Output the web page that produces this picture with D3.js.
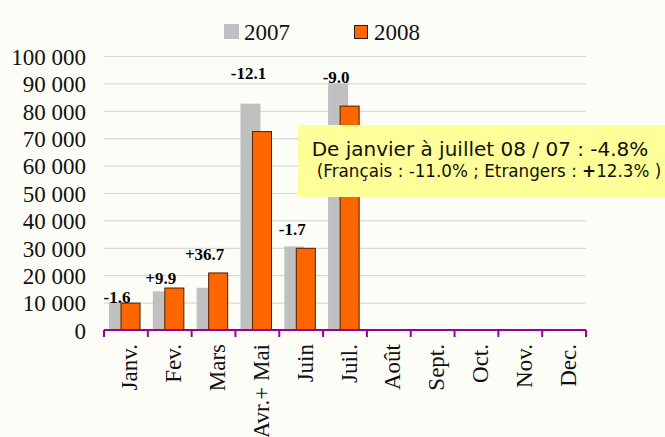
<!DOCTYPE html>
<html><head><meta charset="utf-8">
<script src="https://cdn.jsdelivr.net/npm/d3@7"></script>
<style>html,body{margin:0;padding:0;background:#fdfdf8;}svg{display:block;}</style>
</head><body>
<svg id="c" width="665" height="437"></svg>
<script>
const categories = ["Janv.","Fev.","Mars","Avr.+ Mai","Juin","Juil.","Août","Sept.","Oct.","Nov.","Dec."];
const values2007 = [10150, 14100, 15400, 82600, 30500, 90000, null, null, null, null, null];
const values2008 = [10000, 15500, 21000, 72600, 30000, 81900, null, null, null, null, null];
const changeLabels = ["-1.6","+9.9","+36.7","-12.1","-1.7","-9.0"];
const changeLabelLevel = [9900, 16800, 25700, 91500, 34500, 90000];
const yTicks = [0,10000,20000,30000,40000,50000,60000,70000,80000,90000,100000];
const seriesNames = ["2007","2008"];
const noteLine1 = "De janvier à juillet 08 / 07 : -4.8%";
const noteLine2a = "(Français : -11.0% ; Etrangers : ";
const noteLine2b = "+";
const noteLine2c = "12.3% )";

const svg = d3.select("#c");
svg.append("rect").attr("width",665).attr("height",437).attr("fill","#fdfdf8");

const x = d3.scaleBand().domain(categories).range([104,586]).padding(0);
const y = d3.scaleLinear().domain([0,100000]).range([330,56]);
const bw = x.bandwidth();
const barW = bw*0.457;
const serif = "'Liberation Serif', 'Times New Roman', serif";

// gridlines + y labels
const yAxis = d3.axisLeft(y).tickValues(yTicks).tickSize(-(586-104)).tickPadding(18)
  .tickFormat(d => d3.format(",")(d).replace(/,/g," "));
const gy = svg.append("g").attr("transform","translate(104,0)").call(yAxis);
gy.select(".domain").remove();
gy.selectAll(".tick line").attr("stroke","#d9d9d9").attr("stroke-width",1.2);
gy.selectAll(".tick text").attr("font-family",serif).attr("font-size",23).attr("fill","#111").attr("dy","0.36em");

// bars
const g = svg.append("g");
g.selectAll(".b7").data(categories.map((c,i)=>({c,v:values2007[i]})).filter(d=>d.v!=null))
 .join("rect").attr("x",d=>x(d.c)+bw*0.114).attr("width",barW)
 .attr("y",d=>y(d.v)).attr("height",d=>y(0)-y(d.v)).attr("fill","#c0c0c0");
g.selectAll(".b8").data(categories.map((c,i)=>({c,v:values2008[i]})).filter(d=>d.v!=null))
 .join("rect").attr("x",d=>x(d.c)+bw*0.377+0.5).attr("width",barW-1)
 .attr("y",d=>y(d.v)+0.5).attr("height",d=>y(0)-y(d.v)-0.5).attr("fill","#ff6600")
 .attr("stroke","#4a2000").attr("stroke-width",1);

// x axis
svg.append("line").attr("x1",104).attr("x2",586).attr("y1",y(0)).attr("y2",y(0))
  .attr("stroke","#990099").attr("stroke-width",2);
const bounds = categories.map(c=>x(c)).concat([x.range()[1]]);
svg.selectAll(".xt").data(bounds).join("line").attr("x1",d=>d).attr("x2",d=>d)
  .attr("y1",y(0)).attr("y2",y(0)+7).attr("stroke","#990099").attr("stroke-width",2);
svg.selectAll(".xl").data(categories).join("text")
  .attr("transform",d=>`translate(${x(d)+bw/2},344) rotate(-90)`)
  .attr("text-anchor","end").attr("dy","0.5em")
  .attr("font-family",serif).attr("font-size",23).attr("fill","#111").text(d=>d);

// change labels
svg.selectAll(".cl").data(changeLabels).join("text")
  .attr("x",(d,i)=>x(categories[i])+bw*0.114+barW/2-2)
  .attr("y",(d,i)=>y(changeLabelLevel[i]))
  .attr("text-anchor","middle").attr("font-family",serif).attr("font-weight","bold")
  .attr("font-size",17).attr("fill","#000").text(d=>d);

// legend
const leg = svg.append("g");
leg.append("rect").attr("x",224).attr("y",24).attr("width",15).attr("height",15).attr("fill","#c0c0c0");
leg.append("text").attr("x",244).attr("y",40).attr("font-family",serif).attr("font-size",23).attr("fill","#111").text(seriesNames[0]);
leg.append("rect").attr("x",354.5).attr("y",25.5).attr("width",13).attr("height",13).attr("fill","#ff6600").attr("stroke","#222").attr("stroke-width",1);
leg.append("text").attr("x",374).attr("y",40).attr("font-family",serif).attr("font-size",23).attr("fill","#111").text(seriesNames[1]);

// note box
const sans = "'DejaVu Sans', Verdana, sans-serif";
svg.append("rect").attr("x",298).attr("y",125).attr("width",367).attr("height",72).attr("fill","#ffff99");
const t1 = svg.append("text").attr("x",480).attr("y",156).attr("text-anchor","middle")
  .attr("font-family",sans).attr("font-size",19).attr("fill","#111").text(noteLine1);
const t2 = svg.append("text").attr("x",489).attr("y",177).attr("text-anchor","middle")
  .attr("font-family",sans).attr("font-size",15).attr("fill","#111");
t2.append("tspan").text(noteLine2a);
t2.append("tspan").attr("font-weight","bold").text(noteLine2b);
t2.append("tspan").text(noteLine2c);
// fit widths to reference
function fit(t, target){ const w=t.node().getComputedTextLength(); const fs=+t.attr("font-size"); t.attr("font-size", fs*target/w); }
fit(t1, 337); fit(t2, 345);
</script>
</body></html>
